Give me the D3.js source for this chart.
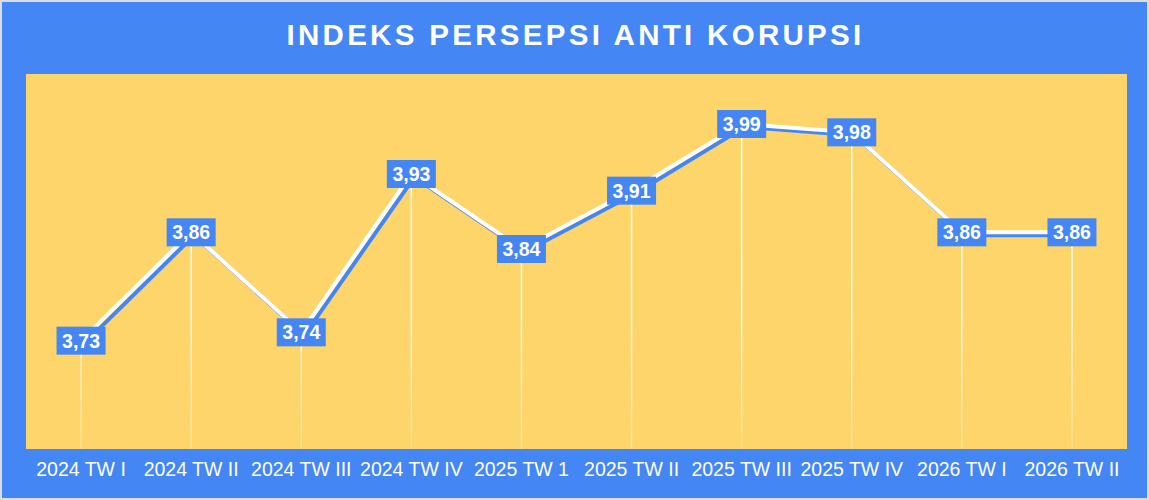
<!DOCTYPE html>
<html>
<head>
<meta charset="utf-8">
<script src="https://cdn.jsdelivr.net/npm/d3@7"></script>
<style>
  html, body { margin: 0; padding: 0; background: #dcdcdc; }
  svg { display: block; }
</style>
</head>
<body>
<div id="chart"></div>
<script>
// data
const periods = ['2024 TW I', '2024 TW II', '2024 TW III', '2024 TW IV', '2025 TW 1',
  '2025 TW II', '2025 TW III', '2025 TW IV', '2026 TW I', '2026 TW II'];
const values = [3.73, 3.86, 3.74, 3.93, 3.84, 3.91, 3.99, 3.98, 3.86, 3.86];
const yDomain = [3.60, 4.05];

const title = 'INDEKS PERSEPSI ANTI KORUPSI';

const size = {width: 1149, height: 500};
const panel = {left: 26, right: 1127, top: 74, bottom: 449};
const blue = '#4486f3';
const yellow = '#fdd56a';
const font = '"Liberation Sans", Arial, sans-serif';

const svg = d3.select('#chart').append('svg')
  .attr('width', size.width)
  .attr('height', size.height)
  .attr('viewBox', `0 0 ${size.width} ${size.height}`);

// frame
svg.append('rect')
  .attr('x', 2).attr('y', 2)
  .attr('width', size.width - 4).attr('height', size.height - 4)
  .attr('fill', blue);

svg.append('rect')
  .attr('x', panel.left).attr('y', panel.top)
  .attr('width', panel.right - panel.left).attr('height', panel.bottom - panel.top)
  .attr('fill', yellow);

svg.append('text')
  .attr('x', size.width / 2 + 1)
  .attr('y', 45)
  .attr('text-anchor', 'middle')
  .attr('fill', 'white')
  .attr('font-family', font)
  .attr('font-weight', 'bold')
  .attr('font-size', 29.5)
  .attr('letter-spacing', 3.3)
  .text(title);

// scales
const xScale = d3.scaleBand().domain(periods).range([panel.left, panel.right]);
const xc = (d) => xScale(d) + xScale.bandwidth() / 2;
const yScale = d3.scaleLinear().domain(yDomain).range([panel.bottom, panel.top]);

const data = periods.map((p, i) => ({period: p, value: values[i]}));

// fading drop lines
const defs = svg.append('defs');
const grad = defs.append('linearGradient')
  .attr('id', 'dropFade')
  .attr('gradientUnits', 'userSpaceOnUse')
  .attr('x1', 0).attr('x2', 0)
  .attr('y1', 120).attr('y2', panel.bottom);
grad.append('stop').attr('offset', '0%').attr('stop-color', 'white').attr('stop-opacity', 1);
grad.append('stop').attr('offset', '60%').attr('stop-color', 'white').attr('stop-opacity', 0.85);
grad.append('stop').attr('offset', '100%').attr('stop-color', 'white').attr('stop-opacity', 0.25);

svg.append('g').selectAll('rect')
  .data(data)
  .enter()
  .append('rect')
  .attr('x', (d) => xc(d.period) - 0.75)
  .attr('y', (d) => yScale(d.value))
  .attr('width', 1.5)
  .attr('height', (d) => panel.bottom - yScale(d.value))
  .attr('fill', 'url(#dropFade)');

// line with blue shadow
const line = d3.line()
  .x((d) => xc(d.period))
  .y((d) => yScale(d.value));

svg.append('path')
  .datum(data)
  .attr('d', line)
  .attr('transform', 'translate(3, 3)')
  .attr('fill', 'none')
  .attr('stroke', blue)
  .attr('stroke-width', 4);

svg.append('path')
  .datum(data)
  .attr('d', line)
  .attr('fill', 'none')
  .attr('stroke', 'white')
  .attr('stroke-width', 4);

// value labels
const labels = svg.append('g').selectAll('g')
  .data(data)
  .enter()
  .append('g')
  .attr('transform', (d) => `translate(${xc(d.period)}, ${yScale(d.value)})`);

labels.append('rect')
  .attr('x', -24.5).attr('y', -14)
  .attr('width', 49).attr('height', 28)
  .attr('fill', blue);

labels.append('text')
  .attr('y', 7)
  .attr('text-anchor', 'middle')
  .attr('fill', 'white')
  .attr('font-family', font)
  .attr('font-weight', 'bold')
  .attr('font-size', 19.5)
  .text((d) => d.value.toFixed(2).replace('.', ','));

// x axis
const xAxis = d3.axisBottom(xScale).tickSize(0).tickPadding(13);
const axisGroup = svg.append('g')
  .attr('transform', `translate(0, ${panel.bottom})`)
  .attr('font-family', font)
  .attr('font-size', 19.5)
  .call(xAxis);
axisGroup.attr('font-size', 19.5).attr('font-family', font);
axisGroup.select('.domain').remove();
axisGroup.selectAll('text')
  .attr('fill', 'white');
</script>
</body>
</html>
